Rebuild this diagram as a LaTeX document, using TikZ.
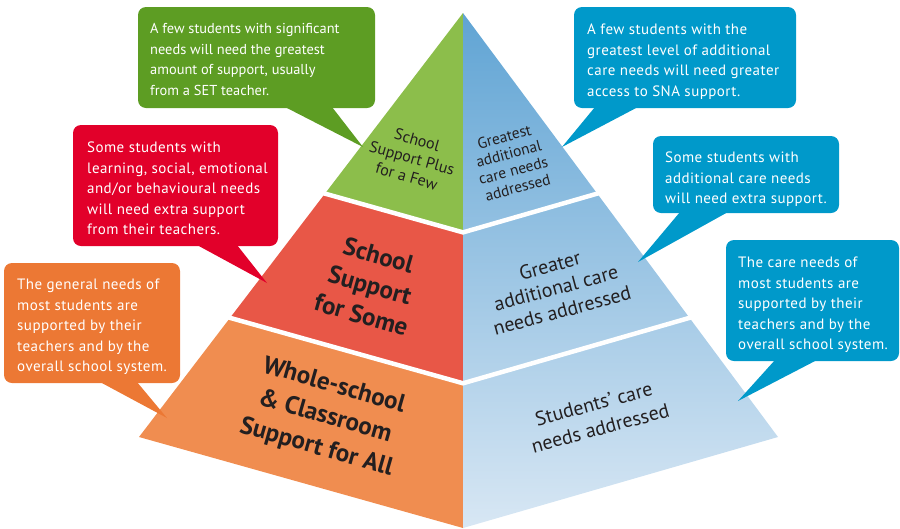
\documentclass[tikz,border=0pt]{standalone}
\usepackage{fontspec}
\setmainfont{PT Sans}
\newfontfamily\notefont[LetterSpace=3]{PT Sans}
\usetikzlibrary{calc}
\definecolor{fewgreen}{RGB}{140,190,75}
\definecolor{fewgreennote}{RGB}{93,157,35}
\definecolor{somered}{RGB}{232,87,71}
\definecolor{someresnote}{RGB}{226,0,42}
\definecolor{allorange}{RGB}{240,141,80}
\definecolor{allorangenote}{RGB}{236,120,52}
\definecolor{carenote}{RGB}{0,153,202}
\definecolor{caretop}{RGB}{96,164,212}
\definecolor{carebottom}{RGB}{216,231,244}
\definecolor{labeldark}{RGB}{35,31,32}
\def\bubble[#1](#2,#3)(#4,#5)(#6:#7)(#8,#9){\fill[#1,rounded corners=8pt] (#2,#3) rectangle (#4,#5); \fill[#1] (#6,#5-1) -- (#8,#9) -- (#7,#5-1) -- cycle;}
\tikzset{
  notetext/.style={text=white, align=left, inner sep=0pt, anchor=north west, font=\notefont\fontsize{15}{20.5}\selectfont},
  layertext/.style={text=labeldark, align=center, inner sep=0pt},
  whitegap/.style={white, line width=4.5pt, line cap=rect, line join=miter}
}
\begin{document}
\begin{tikzpicture}[x=1pt,y=-1pt]
  \useasboundingbox (0,0) rectangle (900,528);

  \coordinate (apex) at (463,13);
  \coordinate (lft) at (139,437);
  \coordinate (rgt) at (778,437);
  \coordinate (frt) at (463,528);

  \coordinate (g1l) at ($(apex)!0.426!(lft)$);
  \coordinate (g1c) at ($(apex)!0.426!(frt)$);
  \coordinate (g1r) at ($(apex)!0.426!(rgt)$);
  \coordinate (g2l) at ($(apex)!0.719!(lft)$);
  \coordinate (g2c) at ($(apex)!0.719!(frt)$);
  \coordinate (g2r) at ($(apex)!0.719!(rgt)$);

  \fill[fewgreen] (apex) -- (g1l) -- (g1c) -- cycle;
  \fill[somered] (g1l) -- (g2l) -- (g2c) -- (g1c) -- cycle;
  \fill[allorange] (g2l) -- (lft) -- (frt) -- (g2c) -- cycle;
  \shade[top color=caretop, bottom color=carebottom] (apex) -- (rgt) -- (frt) -- cycle;

  \draw[whitegap] (g1l) -- (g1c) -- (g1r);
  \draw[whitegap] (g2l) -- (g2c) -- (g2r);

  \node[layertext, rotate=-16, font=\fontsize{16}{19}\selectfont] (fewlayer) at (412,158) {School\\Support Plus\\for a Few};
  \node[layertext, rotate=-16, font=\fontsize{25}{31}\selectfont\bfseries] (somelayer) at (370,285) {School\\Support\\for Some};
  \node[layertext, rotate=-16, font=\fontsize{25}{32}\selectfont\bfseries] (alllayer) at (325,417) {Whole-school\\\& Classroom\\Support for All};
  \node[layertext, rotate=15, font=\fontsize{15.5}{17.5}\selectfont] (greatestcare) at (511,162) {Greatest\\additional\\care needs\\addressed};
  \node[layertext, rotate=15, font=\fontsize{20}{23.5}\selectfont] (greatercare) at (556,288) {Greater\\additional care\\needs addressed};
  \node[layertext, rotate=15, font=\fontsize{20}{25}\selectfont] (studentcare) at (597,416) {Students' care\\needs addressed};

  \bubble[fewgreennote](138,7)(375,108)(285:332)(363,147)
  \node[notetext, font=\fontsize{14.4}{20.7}\selectfont] (fewnote) at (150,23) {A few students with significant\\needs will need the greatest\\amount of support, usually\\from a SET teacher.};

  \bubble[someresnote](73,125)(278,246)(197:237)(267,283)
  \node[notetext] (somenote) at (87,142) {Some students with\\learning, social, emotional\\and/or behavioural needs\\will need extra support\\from their teachers.};

  \bubble[allorangenote](4,263)(180,383)(100:137)(167,418)
  \node[notetext] (allnote) at (17,279) {The general needs of\\most students are\\supported by their\\teachers and by the\\overall school system.};

  \bubble[carenote](574,7)(796,108)(595:638)(562,147)
  \node[notetext] (snanote) at (587,24) {A few students with the\\greatest level of additional\\care needs will need greater\\access to SNA support.};

  \bubble[carenote](653,136)(839,213)(680:728)(638,262)
  \node[notetext] (extranote) at (665,152) {Some students with\\additional care needs\\will need extra support.};

  \bubble[carenote](726,240)(899,361)(775:817)(738,401)
  \node[notetext] (carenote) at (738,257) {The care needs of\\most students are\\supported by their\\teachers and by the\\overall school system.};
\end{tikzpicture}
\end{document}
